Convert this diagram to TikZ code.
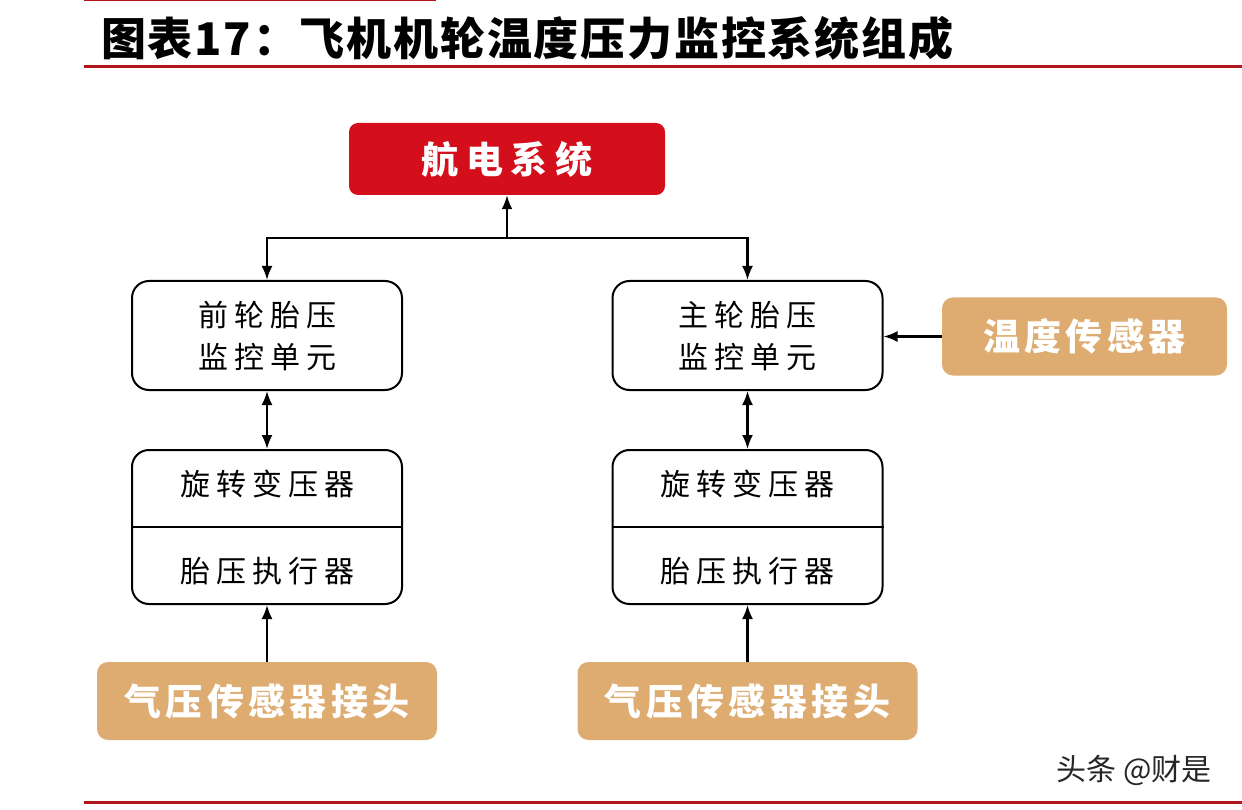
\documentclass[tikz,border=0pt]{standalone}
\usepackage{fontspec}
\setmainfont{Noto Sans CJK SC}
\newfontfamily\cjk{Noto Sans CJK SC}
\usetikzlibrary{arrows.meta,positioning,calc}
\definecolor{hdRed}{RGB}{212,14,26}
\definecolor{sensorTan}{RGB}{222,172,112}
\definecolor{lineRed}{RGB}{176,22,28}

\begin{document}
\begin{tikzpicture}[x=1pt,y=-1pt,
    unit/.style={draw,line width=2pt,rounded corners=17pt,minimum width=270pt,fill=white},
    bodytext/.style={font=\cjk\addfontfeature{LetterSpace=20}\fontsize{30}{42}\selectfont,align=center,inner sep=0pt},
    sensor/.style={fill=sensorTan,rounded corners=11pt,minimum height=78pt,text=white,
      font=\cjk\bfseries\addfontfeature{LetterSpace=12}\fontsize{37}{40}\selectfont},
    arr/.style={-{Latex[length=14pt,width=11pt]},line width=2.2pt},
    twoarr/.style={{Latex[length=14pt,width=11pt]}-{Latex[length=14pt,width=11pt]},line width=2.2pt}]

  \useasboundingbox (0,0) rectangle (1242,810);

  % header and footer rules
  \draw [lineRed,line width=1pt] (84,0.5) -- (436,0.5);
  \node (title) [anchor=west,inner sep=0pt,font=\cjk\bfseries\addfontfeature{LetterSpace=4}\fontsize{45}{48}\selectfont]
    at (101,38) {图表17：飞机机轮温度压力监控系统组成};
  \draw [lineRed,line width=3pt] (84,67) -- (1242,67);
  \draw [lineRed,line width=3pt] (84,802) -- (1242,802);

  % the avionics box
  \node (hd) [fill=hdRed,rounded corners=9pt,minimum width=316pt,minimum height=72pt,text=white,
    font=\cjk\bfseries\addfontfeature{LetterSpace=20}\fontsize{37}{40}\selectfont] at (507,159) {航电系统};
  \coordinate (bus) at (507,238);

  % the two wheel columns
  \foreach \x/\name/\first in {267/f/前轮胎压, 747.5/m/主轮胎压}
  {
    \node (\name u) [unit,minimum height=109pt] at (\x,335.5) {};
    \node (\name ut) [bodytext] at (\x,336) {\first\\监控单元};
    \node (\name b) [unit,minimum height=154pt] at (\x,527) {};
    \draw [line width=2pt] (\name b.west) -- (\name b.east);
    \node (\name b1) [bodytext] at (\x,484) {旋转变压器};
    \node (\name b2) [bodytext] at (\x,571) {胎压执行器};
    \node (\name g) [sensor,minimum width=340pt] at (\x,701) {气压传感器接头};
    \draw [twoarr] (\name u) -- (\name b);
    \draw [arr] (\name g) -- (\name b);
    \draw [arr] (bus) -| (\name u.north);
  }
  \draw [arr] (bus) -- (hd);

  % temperature sensor
  \node (temp) [sensor,minimum width=285pt] at (1084.5,336.5) {温度传感器};
  \draw [arr] (temp.west) -- (temp.west -| mu.east);

  % watermark
  \node (wm) [font=\cjk\fontsize{30}{32}\selectfont,text=black!85] at (1134,770) {头条 @财是};
\end{tikzpicture}
\end{document}
